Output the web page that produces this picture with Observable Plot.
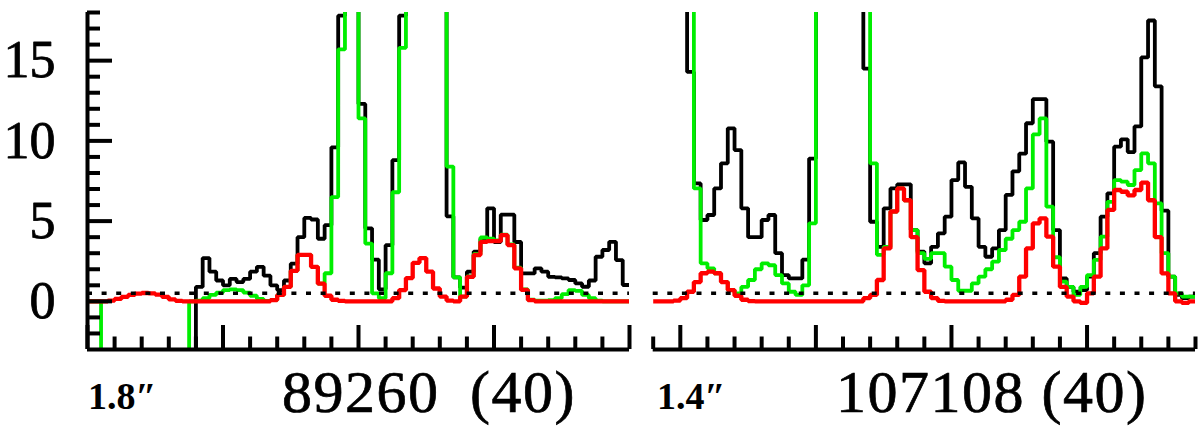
<!DOCTYPE html>
<html>
<head>
<meta charset="utf-8">
<script src="https://cdn.jsdelivr.net/npm/d3@7"></script>
<script src="https://cdn.jsdelivr.net/npm/@observablehq/plot@0.6"></script>
<style>
  html, body { margin: 0; padding: 0; background: #fff; }
  #wrap { position: relative; width: 1200px; height: 426px; overflow: hidden; font-family: "Liberation Serif", serif; color: #000; }
  .panel { position: absolute; top: 0; }
  .lab { position: absolute; line-height: 1.2; white-space: pre; }
  .big { font-size: 60px; letter-spacing: 1.5px; -webkit-text-stroke: 0.7px #000; }
  .small { font-size: 38px; font-weight: bold; }
</style>
</head>
<body>
<div id="wrap"></div>
<script>
// ---------- data (bins of 1/4 minor tick; clipped values beyond axis range) ----------
const xDomain = [0, 80];
const yDomain = [-3, 18];
const refLevel = [0.5];

const yMinorTicks = [-2, -1, 1, 2, 3, 4, 6, 7, 8, 9, 11, 12, 13, 14, 16, 17, 18];
const yMajorTicks = [0, 5, 10, 15];
const yTickLabels = [0, 5, 10, 15];

const x1MinorTicks = [4, 8, 12, 16, 24, 28, 32, 36, 44, 48, 52, 56, 64, 68, 72, 76];
const x1MajorTicks = [0, 20, 40, 60, 80];
const x2MinorTicks = [0, 8, 12, 16, 20, 28, 32, 36, 40, 48, 52, 56, 60, 68, 72, 76, 80];
const x2MajorTicks = [4, 24, 44, 64];

const panelSeeing = ["1.8\u2033", "1.4\u2033"];
const panelIds = ["89260", "107108"];
const panelCounts = ["(40)", "(40)"];

// Panel 1 (89260)
const black1 = [
  -10,-10,-10,-10,-10,-10,-10,-10,-10,-10,-10,-10,-10,-10,-10,-10,
  0.9,2.7,1.85,1.3,1.0,1.4,1.2,1.4,1.85,2.15,1.6,1.0,0.7,1.3,2.35,4.0,
  5.2,5.1,3.9,4.75,9.6,17.8,30,30,12.3,4.55,2.6,0.75,3.5,8.8,17.8,30,
  30,30,30,30,30,5.3,1.5,0.85,1.85,3.1,3.9,5.8,3.7,5.4,5.4,3.7,
  1.74,1.74,2.06,1.85,1.53,1.5,1.43,1.33,1.12,0.91,1.3,2.78,3.2,3.71,2.57,1.02
];
const green1 = [
  0,0,-10,-10,-10,-10,-10,-10,-10,-10,-10,-10,-10,-10,-10,0,
  0.05,0.2,0.4,0.55,0.7,0.75,0.7,0.55,0.35,0.15,0.03,0.08,0.4,0.9,1.9,2.9,
  2.9,2.15,1.1,1.75,6.5,15.7,30,30,11.4,3.6,0.5,0.2,1.75,6.8,15.8,30,
  30,30,30,30,30,8.4,1.5,0.3,1.55,2.95,3.98,3.9,3.8,4.15,3.55,2.1,
  0.75,0.1,0.05,0.05,0.08,0.2,0.45,0.7,0.65,0.4,0.2,0.05,0,0,0,0
];
const red1 = [
  0,0,0,0.05,0.15,0.28,0.4,0.48,0.52,0.5,0.42,0.28,0.12,0.03,0,0,
  0,0,0,0,0,0,0,0,0,0,0,0.08,0.4,0.9,1.9,2.9,
  2.9,2.15,1.1,0.35,0.1,0.03,0,0,0,0,0,0,0,0.2,0.7,1.45,
  2.4,2.7,1.85,0.8,0.3,0.05,0,0.3,1.53,2.89,3.71,3.75,3.75,4.13,3.51,2.06,
  0.71,0.08,0,0,0,0,0,0,0,0,0,0,0,0,0,0
];

// Panel 2 (107108)
const black2 = [
  30,30,30,30,30,14.3,7.35,5.07,5.38,7.04,8.6,10.78,9.43,5.8,4.0,4.0,
  5.07,5.38,3.0,1.64,1.43,1.43,2.6,8.9,30,30,30,30,30,30,30,14.5,
  4.96,3.4,5.8,7.04,7.29,7.29,4.44,3.1,2.37,3.4,4.24,5.28,7.56,8.66,7.14,5.17,
  3.4,2.78,3.3,4.44,6.63,8.1,9.2,11.1,12.6,12.6,9.95,4.44,1.43,0.9,0.6,0.7,
  1.54,3.0,5.28,6.73,9.64,10.1,9.3,10.9,15.2,17.5,13.4,5.65,1.54,0.4,0.2,0.3
];
const green2 = [
  30,30,30,30,30,30,7.04,2.37,2.06,1.75,1.22,0.7,0.5,0.9,1.33,2.0,
  2.37,2.25,1.64,1.12,0.6,0.4,1.0,4.86,30,30,30,30,30,30,30,30,
  8.6,2.9,3.4,5.6,7.04,6.3,4.44,3.0,2.65,3.0,3.0,2.16,1.33,0.66,0.66,1.12,
  1.54,2.0,2.47,3.2,3.9,4.44,4.96,7.04,10.4,11.4,5.9,2.75,1.23,0.9,0.4,0.9,
  1.64,2.58,4.03,6.2,7.56,7.46,7.25,8.18,9.22,8.6,6.1,3.0,1.54,0.5,0.3,0.3
];
const red2 = [
  0,0,0,0.05,0.2,0.6,1.2,1.75,1.85,1.75,1.2,0.7,0.35,0.1,0.02,0,
  0,0,0,0,0,0,0,0,0,0,0,0,0,0,0,0.2,
  0.4,1.33,3.3,5.6,7.04,6.3,4.0,1.95,0.6,0.2,0.03,0,0,0,0,0,
  0,0,0,0,0.1,0.4,1.54,3.3,4.86,5.17,4.03,2.16,0.9,0.3,0,-0.1,
  0.5,1.54,3.3,5.7,6.94,6.83,6.6,6.94,7.4,6.3,4.0,1.74,0.5,0,-0.1,0
];

// ---------- drawing ----------
const COLORS = {black: "#000000", green: "#00ee00", red: "#ff0000"};

function steps(vals) {
  const pts = vals.map((v, k) => ({x: k, y: v}));
  pts.push({x: vals.length, y: vals[vals.length - 1]});
  return pts;
}

function seriesMarks(b, g, r) {
  const common = {x: "x", y: "y", curve: "step-after", clip: true, strokeLinejoin: "miter", strokeLinecap: "butt"};
  return [
    Plot.line(steps(b), {...common, stroke: COLORS.black, strokeWidth: 3.8}),
    Plot.line(steps(g), {...common, stroke: COLORS.green, strokeWidth: 3.8}),
    Plot.line(steps(r), {...common, stroke: COLORS.red, strokeWidth: 4.3}),
    Plot.ruleY(refLevel, {stroke: "#000", strokeWidth: 3.5, strokeDasharray: "5 9.6"})
  ];
}

function xAxisMarks(minor, major) {
  return [
    Plot.ruleY([yDomain[0]], {stroke: "#000", strokeWidth: 4}),
    Plot.axisX(minor, {anchor: "bottom", tickSize: 12.5, dy: -12.5, fill: "none", strokeWidth: 4, label: null}),
    Plot.axisX(major, {anchor: "bottom", tickSize: 24, dy: -24, fill: "none", strokeWidth: 4, label: null})
  ];
}

const plot1 = Plot.plot({
  width: 640, height: 360,
  marginLeft: 87, marginRight: 11, marginTop: 12, marginBottom: 11,
  x: {domain: xDomain, label: null},
  y: {domain: yDomain, label: null},
  style: {background: "transparent", overflow: "visible"},
  marks: [
    ...seriesMarks(black1, green1, red1),
    Plot.ruleX([xDomain[0]], {stroke: "#000", strokeWidth: 4}),
    Plot.axisY(yMinorTicks, {anchor: "left", tickSize: 13, dx: 13, fill: "none", strokeWidth: 4, label: null}),
    Plot.axisY(yMajorTicks, {anchor: "left", tickSize: 25, dx: 25, fill: "none", strokeWidth: 4, label: null}),
    Plot.axisY(yTickLabels, {anchor: "left", tickSize: 0, tickPadding: 32, fontSize: 52, label: null,
      fontFamily: "Liberation Serif", textStroke: "#000", textStrokeWidth: 0.8, tickFormat: d => String(d)}),
    ...xAxisMarks(x1MinorTicks, x1MajorTicks)
  ]
});

const plot2 = Plot.plot({
  width: 560, height: 360,
  marginLeft: 12.7, marginRight: 5, marginTop: 12, marginBottom: 11,
  x: {domain: xDomain, label: null},
  y: {domain: yDomain, axis: null},
  style: {background: "transparent", overflow: "visible"},
  marks: [
    ...seriesMarks(black2, green2, red2),
    ...xAxisMarks(x2MinorTicks, x2MajorTicks)
  ]
});

const wrap = document.getElementById("wrap");
const d1 = document.createElement("div"); d1.className = "panel"; d1.style.left = "0px"; d1.appendChild(plot1);
const d2 = document.createElement("div"); d2.className = "panel"; d2.style.left = "640px"; d2.appendChild(plot2);
wrap.appendChild(d1); wrap.appendChild(d2);

function label(text, cls, left, top) {
  const el = document.createElement("div");
  el.className = "lab " + cls;
  el.style.left = left + "px";
  el.style.top = top + "px";
  el.textContent = text;
  wrap.appendChild(el);
}
label(panelSeeing[0], "small", 88, 374);
label(panelIds[0], "big", 282, 356);
label(panelCounts[0], "big", 470, 356);
label(panelSeeing[1], "small", 657, 374);
label(panelIds[1] + " " + panelCounts[1], "big", 836, 356);
</script>
</body>
</html>
